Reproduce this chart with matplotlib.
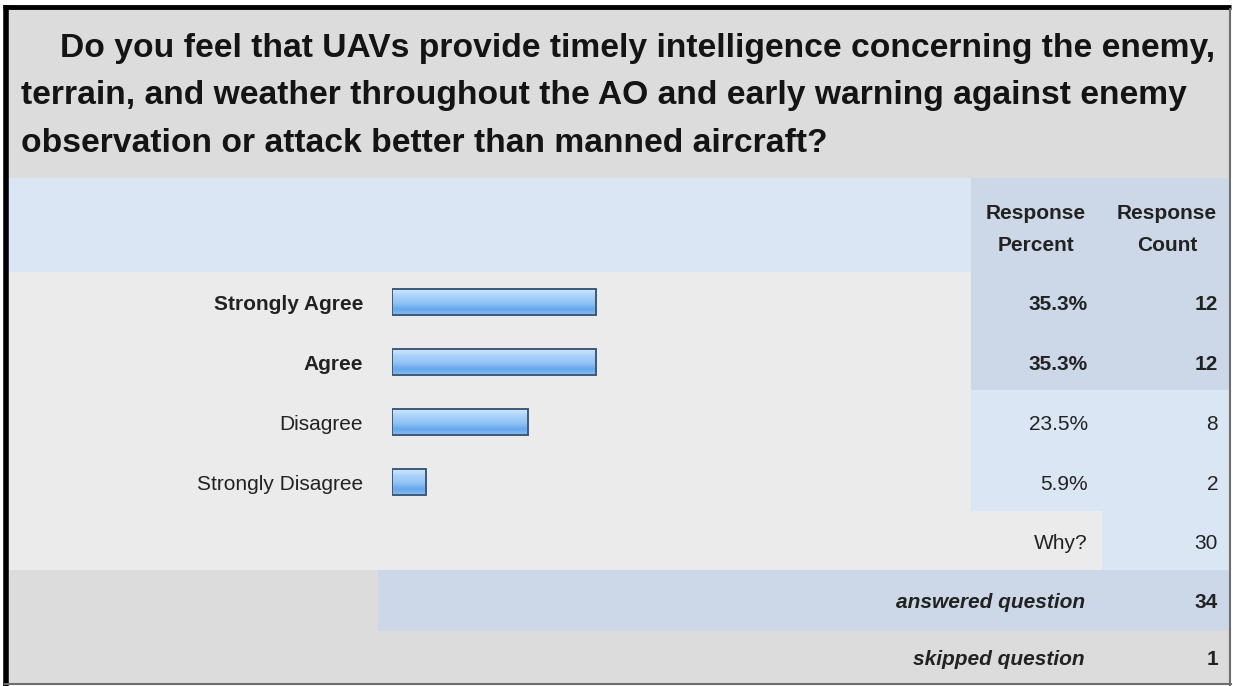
import matplotlib

matplotlib.use("Agg")

import matplotlib.pyplot as plt
import numpy as np
from matplotlib.colors import LinearSegmentedColormap
from matplotlib.patches import Rectangle

plt.rcParams["font.family"] = ["Liberation Sans", "DejaVu Sans"]

# survey data
question_lines = [
    "Do you feel that UAVs provide timely intelligence concerning the enemy,",
    "terrain, and weather throughout the AO and early warning against enemy",
    "observation or attack better than manned aircraft?",
]
answers = ["Strongly Agree", "Agree", "Disagree", "Strongly Disagree"]
percents = [35.3, 35.3, 23.5, 5.9]
counts = [12, 12, 8, 2]
why_count = 30
answered = 34
skipped = 1

W, H = 1233, 686
fig = plt.figure(figsize=(W / 100, H / 100), dpi=100)
fig.patch.set_facecolor("white")

# background layer in pixel units (y grows downwards)
bg = fig.add_axes([0, 0, 1, 1])
bg.set_xlim(0, W)
bg.set_ylim(H, 0)
bg.axis("off")

GRAY = "#dcdcdc"
ROW = "#ebebeb"
LIGHT = "#dbe6f5"
DARK = "#ccd8e7"
TXT = "#222222"


def cell(x0, y0, x1, y1, color):
    bg.add_patch(Rectangle((x0, y0), x1 - x0, y1 - y0, facecolor=color,
                           edgecolor="none", zorder=1))


left, right = 8, 1230
col_x = 971
row_h = 60
top_rows = 272

cell(left, 9, right, 178, GRAY)
cell(left, 178, col_x, top_rows, LIGHT)
cell(col_x, 178, right, top_rows, DARK)
cell(left, top_rows, col_x, 511, ROW)
cell(col_x, top_rows, right, 390, DARK)
cell(col_x, 390, right, 511, LIGHT)
cell(left, 511, 1102, 570, ROW)
cell(1102, 511, right, 570, LIGHT)
cell(left, 570, 378, 631, GRAY)
cell(378, 570, right, 631, DARK)
cell(left, 631, right, 684, GRAY)

# frame: heavy black top/left, thin gray right/bottom
bg.plot([3, 1231], [7, 7], color="black", lw=3.5, zorder=5, solid_capstyle="butt")
bg.plot([5.5, 5.5], [5, 686], color="black", lw=4, zorder=5, solid_capstyle="butt")
bg.plot([1230, 1230], [9, 685], color="#6e6e6e", lw=1.5, zorder=5)
bg.plot([5, 1231], [684, 684], color="#6e6e6e", lw=1.5, zorder=5)

# question text
title_x = [60, 21, 21]
title_y = [57, 104, 152]
for line, x, y in zip(question_lines, title_x, title_y):
    bg.text(x, y, line, fontsize=24.2, fontweight="bold", color="#141414",
            va="baseline", ha="left", zorder=6)

# column headers
fs = 15
for cx, words in [(1036, ["Response", "Percent"]), (1167, ["Response", "Count"])]:
    bg.text(cx, 219, words[0], fontsize=fs, fontweight="bold", color=TXT,
            ha="center", va="baseline", zorder=6)
    bg.text(cx, 251, words[1], fontsize=fs, fontweight="bold", color=TXT,
            ha="center", va="baseline", zorder=6)

# answer rows
top_pct = max(percents)
for i, (name, pct, n) in enumerate(zip(answers, percents, counts)):
    base = top_rows + row_h * i + row_h / 2 + 8
    weight = "bold" if pct == top_pct else "normal"
    bg.text(363, base, name, fontsize=fs, fontweight=weight, color=TXT,
            ha="right", va="baseline", zorder=6)
    bg.text(1088, base, f"{pct:.1f}%", fontsize=fs, fontweight=weight,
            color=TXT, ha="right", va="baseline", zorder=6)
    bg.text(1218, base, str(n), fontsize=fs, fontweight=weight, color=TXT,
            ha="right", va="baseline", zorder=6)

bg.text(1088, 549, "Why?", fontsize=fs, color=TXT, ha="right",
        va="baseline", zorder=6)
bg.text(1218, 549, str(why_count), fontsize=fs, color=TXT, ha="right",
        va="baseline", zorder=6)
bg.text(1085, 608, "answered question", fontsize=fs, fontweight="bold",
        fontstyle="italic", color=TXT, ha="right", va="baseline", zorder=6)
bg.text(1218, 608, str(answered), fontsize=fs, fontweight="bold", color=TXT,
        ha="right", va="baseline", zorder=6)
bg.text(1085, 665, "skipped question", fontsize=fs, fontweight="bold",
        fontstyle="italic", color=TXT, ha="right", va="baseline", zorder=6)
bg.text(1218, 665, str(skipped), fontsize=fs, fontweight="bold", color=TXT,
        ha="right", va="baseline", zorder=6)

# bar area: 0-100 % across the answer column
ax = fig.add_axes([392 / W, 1 - (top_rows + 4 * row_h) / H,
                   (col_x - 392) / W, 4 * row_h / H])
ax.patch.set_visible(False)
ax.axis("off")

shine = LinearSegmentedColormap.from_list(
    "shine",
    [(0.0, "#cde6fd"), (0.25, "#acd3f9"), (0.55, "#8fc2f4"),
     (0.78, "#67a7ec"), (1.0, "#88bcf1")],
)
grad = np.linspace(0, 1, 64).reshape(-1, 1)
bar_h = 0.42
ypos = np.arange(len(answers))
for y, pct in zip(ypos, percents):
    ax.imshow(grad, cmap=shine, aspect="auto", interpolation="bilinear",
              extent=(0, pct, y + bar_h / 2, y - bar_h / 2), zorder=2)
ax.barh(ypos, percents, height=bar_h, fill=False, edgecolor="#3d5a7a",
        linewidth=1.4, zorder=3)
ax.set_xlim(0, 100)
ax.set_ylim(len(answers) - 0.5, -0.5)

fig.savefig("out.png", dpi=100)
